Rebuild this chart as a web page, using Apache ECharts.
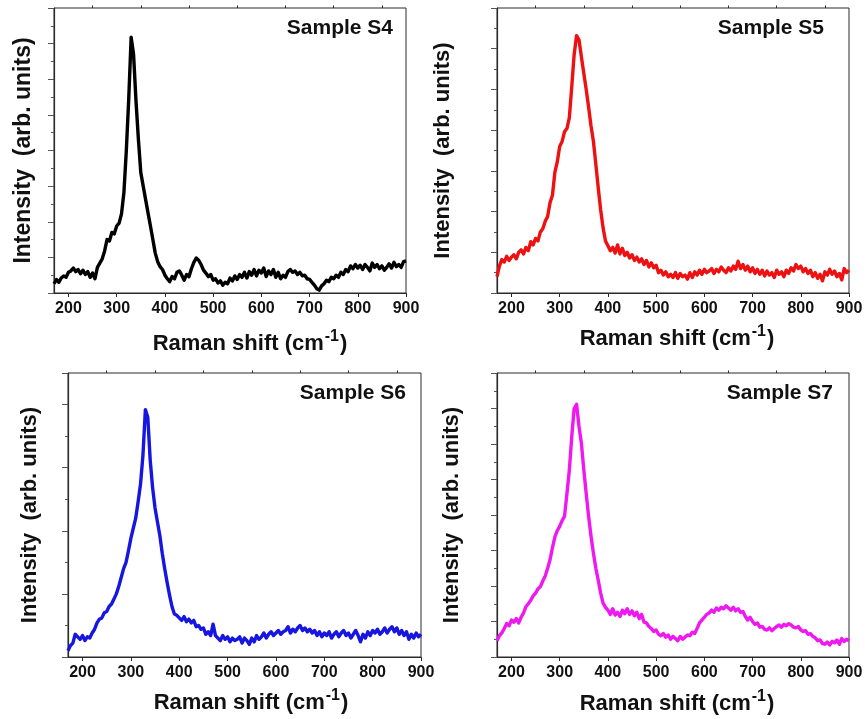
<!DOCTYPE html>
<html>
<head>
<meta charset="utf-8">
<title>Raman spectra S4–S7</title>
<script src="https://cdn.jsdelivr.net/npm/echarts@6/dist/echarts.min.js"></script>
<style>
  html, body { margin: 0; padding: 0; background: #ffffff; }
  #chart { width: 865px; height: 719px; }
</style>
</head>
<body>
<div id="chart"></div>
<script>
// Raman shift grid (cm^-1), shared by all four spectra
const ramanShift = [
  170,175,180,185,190,195,200,205,210,215,
  220,225,230,235,240,245,250,255,260,265,
  270,275,280,285,290,295,300,305,310,315,
  320,325,330,335,340,345,350,355,360,365,
  370,375,380,385,390,395,400,405,410,415,
  420,425,430,435,440,445,450,455,460,465,
  470,475,480,485,490,495,500,505,510,515,
  520,525,530,535,540,545,550,555,560,565,
  570,575,580,585,590,595,600,605,610,615,
  620,625,630,635,640,645,650,655,660,665,
  670,675,680,685,690,695,700,705,710,715,
  720,725,730,735,740,745,750,755,760,765,
  770,775,780,785,790,795,800,805,810,815,
  820,825,830,835,840,845,850,855,860,865,
  870,875,880,885,890,895,900
];

// Intensities (arb. units) for each sample
const intensityS4 = [
  26,38,30,42,48,44,58,62,70,60,
  66,54,64,52,60,44,56,40,72,84,
  96,118,150,146,170,166,188,196,222,282,
  400,545,718,670,540,432,338,300,262,225,
  188,150,112,88,74,66,50,40,32,46,
  40,58,62,50,36,52,46,68,86,98,
  92,80,64,56,46,52,36,40,28,34,
  22,30,26,42,34,48,38,52,44,58,
  42,60,50,66,48,64,56,70,46,62,
  52,66,44,58,40,50,44,60,66,58,
  62,52,58,48,50,40,38,30,22,12,
  8,20,26,36,32,44,40,50,44,58,
  52,66,60,76,68,80,70,78,66,80,
  72,62,84,72,80,68,76,64,72,82,
  70,86,74,80,72,88,90
];
const intensityS5 = [
  40,66,82,76,90,80,88,94,84,100,
  106,96,112,104,126,118,134,128,150,158,
  176,188,222,240,296,322,360,372,396,404,
  430,506,586,632,622,580,540,500,456,410,
  372,316,258,204,160,128,116,104,112,98,
  118,96,110,92,100,86,94,80,88,76,
  84,70,80,64,74,62,68,50,56,44,
  52,40,46,38,50,36,48,40,44,34,
  50,38,52,44,56,46,58,50,54,60,
  48,58,52,64,56,50,62,54,66,58,
  78,60,70,56,66,52,62,48,58,46,
  56,42,54,44,50,38,56,46,52,40,
  56,48,62,54,70,60,66,52,60,48,
  56,40,50,36,46,30,52,44,58,46,
  54,40,48,32,60,50,56
];
const intensityS6 = [
  10,18,22,36,32,28,34,26,32,30,
  38,44,54,60,62,70,72,80,84,92,
  100,112,126,140,150,168,188,204,220,246,
  274,320,392,380,312,268,236,214,192,164,
  140,118,98,80,68,66,62,58,64,56,
  60,54,58,48,50,44,46,36,40,34,
  52,34,30,26,34,28,32,24,30,26,
  28,32,22,30,26,20,30,24,34,28,
  32,38,30,36,40,34,38,42,36,40,
  42,48,38,44,40,46,50,42,46,40,
  44,38,42,34,40,32,38,34,40,30,
  36,40,32,38,42,34,38,30,36,42,
  34,24,36,30,40,34,42,38,44,36,
  40,46,38,44,48,40,46,36,42,34,
  40,28,36,30,38,32,36
];
const intensityS7 = [
  46,60,68,80,94,88,104,98,108,96,
  112,124,142,150,160,172,180,192,198,214,
  228,250,274,308,338,356,368,384,396,460,
  526,620,700,712,650,602,528,460,396,340,
  292,250,216,180,152,140,132,120,136,118,
  126,114,132,122,136,120,130,116,126,108,
  120,98,96,86,80,72,76,64,60,66,
  56,62,50,58,52,46,58,50,56,62,
  60,70,66,80,96,104,112,120,124,132,
  126,138,132,140,136,144,138,132,140,130,
  136,126,128,114,104,112,100,92,96,84,
  86,78,76,82,74,80,86,90,84,92,
  88,94,90,84,82,86,76,72,74,64,
  66,58,54,46,48,38,36,42,34,44,
  40,48,36,52,44,50,46
];

const sampleNames = ['Sample S4', 'Sample S5', 'Sample S6', 'Sample S7'];
const xMajorTicks = [200, 300, 400, 500, 600, 700, 800, 900];
const xMinorTicks = [250, 350, 450, 550, 650, 750, 850];
const xRange = [170, 900];
const yMaxima = [800, 700, 450, 800];

const spectra = [intensityS4, intensityS5, intensityS6, intensityS7];
const lineColors = ['#000000', '#ee1111', '#1616e0', '#f018f0'];

// panel placement and label offsets
const panels = [
  { left: 54,  top: 8,   width: 352, height: 285, titleRight: 472, titleTop: 18,  xGap: 36, xPad: 40, yGap: 19, ySize: 23 },
  { left: 497, top: 8,   width: 352, height: 285, titleRight: 41,  titleTop: 18,  xGap: 31, xPad: 8,  yGap: 43, ySize: 22 },
  { left: 68,  top: 373, width: 353, height: 284, titleRight: 459, titleTop: 383, xGap: 31, xPad: 13, yGap: 27, ySize: 22 },
  { left: 497, top: 373, width: 352, height: 284, titleRight: 32,  titleTop: 383, xGap: 32, xPad: 8,  yGap: 34, ySize: 22 }
];

const FONT = '"Liberation Sans", Arial, Helvetica, sans-serif';
const AXIS_COLOR = '#2a2a2a';

const grid = [], xAxis = [], yAxis = [], series = [], title = [];

panels.forEach((p, i) => {
  grid.push({
    left: p.left, top: p.top, width: p.width, height: p.height,
    outerBoundsMode: 'none', containLabel: false,
    show: true, borderColor: AXIS_COLOR, borderWidth: 1, backgroundColor: 'transparent'
  });

  // labelled x axis with major ticks
  xAxis.push({
    type: 'value', gridIndex: i, min: xRange[0], max: xRange[1],
    axisLine: { show: true, onZero: false, lineStyle: { color: AXIS_COLOR, width: 1.2 } },
    axisTick: { show: true, inside: false, length: 4, customValues: xMajorTicks, lineStyle: { color: AXIS_COLOR, width: 1 } },
    axisLabel: { show: true, customValues: xMajorTicks, margin: 8, color: '#111', fontFamily: FONT, fontWeight: 'bold', fontSize: 16 },
    splitLine: { show: false },
    name: '{b|Raman shift (cm}{s|-1}{b|)}',
    nameLocation: 'middle', nameGap: p.xGap, nameMoveOverlap: false,
    nameTextStyle: {
      padding: [0, 0, 0, p.xPad],
      rich: {
        b: { fontFamily: FONT, fontWeight: 'bold', fontSize: 22, color: '#111', verticalAlign: 'bottom', lineHeight: 26 },
        s: { fontFamily: FONT, fontWeight: 'bold', fontSize: 16, color: '#111', verticalAlign: 'top', lineHeight: 26, padding: [0, 1, 7, 1] }
      }
    }
  });
  // unlabelled x axis carrying the minor ticks
  xAxis.push({
    type: 'value', gridIndex: i, min: xRange[0], max: xRange[1],
    axisLine: { show: false, onZero: false },
    axisTick: { show: true, inside: false, length: 2.5, customValues: xMinorTicks, lineStyle: { color: AXIS_COLOR, width: 1 } },
    axisLabel: { show: false },
    splitLine: { show: false }
  });

  yAxis.push({
    type: 'value', gridIndex: i, min: 0, max: yMaxima[i], interval: 100,
    axisLine: { show: true, onZero: false, lineStyle: { color: AXIS_COLOR, width: 1.2 } },
    axisTick: { show: true, inside: false, length: 6, lineStyle: { color: '#555', width: 1 } },
    minorTick: { show: true, splitNumber: 2, length: 3, lineStyle: { color: '#555', width: 1 } },
    axisLabel: { show: false },
    splitLine: { show: false },
    name: 'Intensity  (arb. units)',
    nameLocation: 'middle', nameGap: p.yGap, nameMoveOverlap: false,
    nameTextStyle: { fontFamily: FONT, fontWeight: 'bold', fontSize: p.ySize, color: '#111' }
  });

  series.push({
    type: 'line', xAxisIndex: i * 2, yAxisIndex: i,
    data: ramanShift.map((x, k) => [x, spectra[i][k]]),
    showSymbol: false, symbol: 'none',
    lineStyle: { color: lineColors[i], width: 3.4, join: 'round' },
    silent: true
  });

  title.push({
    text: sampleNames[i], right: p.titleRight, top: p.titleTop, padding: 0,
    textStyle: { fontFamily: FONT, fontWeight: 'bold', fontSize: 21, color: '#111' }
  });
});

const chart = echarts.init(document.getElementById('chart'), null, { renderer: 'canvas' });
chart.setOption({
  animation: false,
  backgroundColor: '#ffffff',
  title, grid, xAxis, yAxis, series
});
</script>
</body>
</html>
